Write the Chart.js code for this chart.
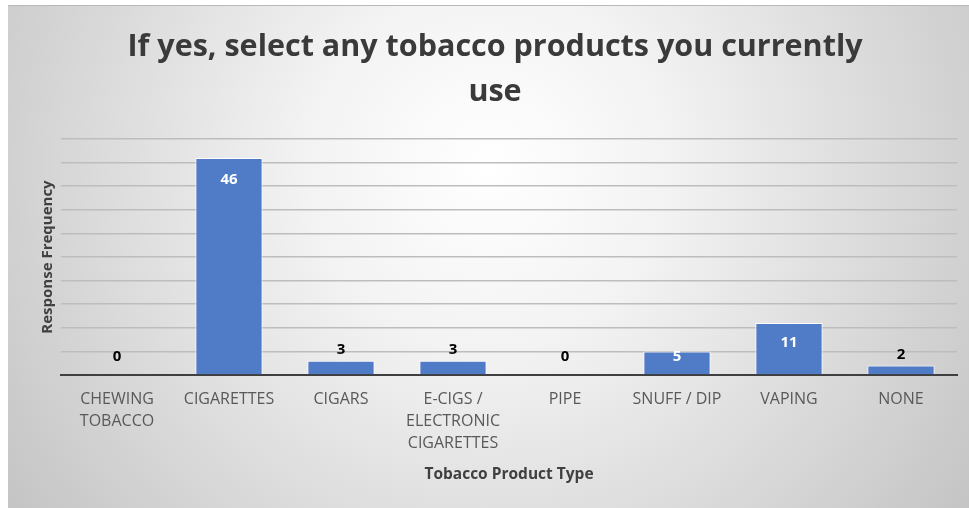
<!DOCTYPE html>
<html>
<head>
<meta charset="utf-8">
<script src="https://cdn.jsdelivr.net/npm/chart.js@4/dist/chart.umd.min.js"></script>
<style>
  html,body{margin:0;padding:0;background:#fff}
  #wrap{position:absolute;left:8px;top:5px;width:961px;height:503px;border-top:1px solid #b9b9b9;box-sizing:border-box}
  #wrap canvas{display:block}
</style>
</head>
<body>
<div id="wrap"><canvas id="ch1" width="961" height="502"></canvas></div>
<script>
const titleLines = ['If yes, select any tobacco products you currently', 'use']
const categories = [['CHEWING','TOBACCO'], 'CIGARETTES', 'CIGARS', ['E-CIGS /','ELECTRONIC','CIGARETTES'], 'PIPE', 'SNUFF / DIP', 'VAPING', 'NONE']
const counts = [0, 46, 3, 3, 0, 5, 11, 2]
const yMax = 50, yStep = 5

const FONT = '"Open Sans", Roboto, sans-serif'

// radial grey backdrop like the office chart fill
const bgPlugin = {
  id:'bg',
  beforeDraw(chart){
    const {ctx, width, height} = chart
    const g = ctx.createRadialGradient(480, 160, 0, 480, 160, 600)
    g.addColorStop(0, '#ffffff')
    g.addColorStop(0.3, '#f3f3f3')
    g.addColorStop(1, '#c3c3c3')
    ctx.save(); ctx.fillStyle = g; ctx.fillRect(0, 0, width, height); ctx.restore()
  }
}

// value labels: white inside tall bars, black above short ones
const labelPlugin = {
  id:'vals',
  afterDatasetsDraw(chart){
    const ctx = chart.ctx
    const meta = chart.getDatasetMeta(0)
    ctx.save()
    ctx.font = 'bold 15px ' + FONT
    ctx.textAlign = 'center'; ctx.textBaseline = 'middle'
    meta.data.forEach((bar, i)=>{
      const v = counts[i]
      const h = bar.base - bar.y
      if(v >= 5){ ctx.fillStyle = '#ffffff'; ctx.fillText(String(v), bar.x, bar.y + Math.min(22, h/2 - 6)) }
      else { ctx.fillStyle = '#000000'; ctx.fillText(String(v), bar.x, bar.y - (v===0 ? 18 : 11)) }
    })
    ctx.restore()
  }
}

const c1 = document.getElementById('ch1').getContext('2d')
window._ch1 = new Chart(c1, {
  type:'bar',
  data:{ labels:categories, datasets:[ {label:'Response Frequency', data:counts, backgroundColor:'#4f7bc7', borderColor:'#ffffff', borderWidth:1, barPercentage:0.6, categoryPercentage:1} ] },
  options:{
    responsive:false, animation:false,
    layout:{ padding:{ left:25, right:12, top:0, bottom:0 } },
    plugins:{
      legend:{ display:false }, tooltip:{ enabled:false },
      title:{ display:true, text:titleLines, color:'#3a3a3a', font:{ family:FONT, size:30.5, weight:'bold', lineHeight:45/30.5 }, padding:{ top:19, bottom:24 } }
    },
    scales:{
      x:{
        grid:{ display:false, drawTicks:false },
        border:{ display:true, color:'#3f3f3f', width:2 },
        ticks:{ color:'#595959', padding:13, maxRotation:0, autoSkip:false, font:{ family:FONT, size:16, lineHeight:22/16 } },
        title:{ display:true, text:'Tobacco Product Type', color:'#404040', font:{ family:FONT, size:15.5, weight:'bold', lineHeight:17/15.5 }, padding:{ top:4, bottom:25 } },
        afterFit(s){ s.height = 133 }
      },
      y:{
        min:0, max:yMax,
        grid:{ color:'#bdbdbd', lineWidth:1.5, drawTicks:false },
        border:{ display:false },
        ticks:{ display:false, stepSize:yStep },
        title:{ display:true, text:'Response Frequency', color:'#404040', font:{ family:FONT, size:15, weight:'bold', lineHeight:17/15 }, padding:{ top:6.5, bottom:0 } },
        afterFit(s){ s.width = 28 }
      }
    }
  },
  plugins:[bgPlugin, labelPlugin]
})
</script>
</body>
</html>
